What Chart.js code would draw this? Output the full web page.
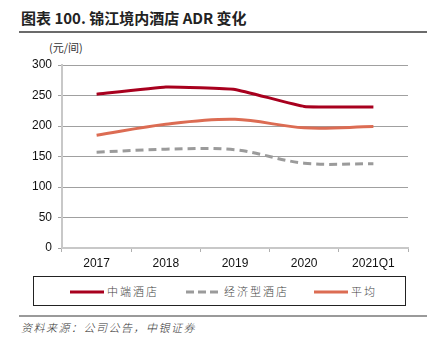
<!DOCTYPE html>
<html>
<head>
<meta charset="utf-8">
<script src="https://cdn.jsdelivr.net/npm/chart.js@4/dist/chart.umd.min.js"></script>
<style>
  html, body { margin:0; padding:0; background:#fff; }
  body { width:438px; height:354px; position:relative; overflow:hidden; font-family:'Liberation Sans', Arial, sans-serif; }
  .title { position:absolute; left:21px; top:7px; font:bold 15px 'Noto Sans CJK SC', sans-serif; color:#222; white-space:nowrap; }
  .rule-top { position:absolute; left:19px; top:31px; width:408px; height:2px; background:#6b6b6b; }
  .unit { position:absolute; left:49px; top:39px; font:11px 'Noto Sans CJK SC', sans-serif; color:#333; }
  #wrap { position:absolute; left:0; top:0; width:438px; height:273px; }
  .legend { position:absolute; left:33px; top:276px; width:371px; height:28px; border:1px solid #222; font:300 11px 'Noto Sans CJK SC', serif; color:#444; }
  .legend span { position:absolute; top:6px; letter-spacing:2px; white-space:nowrap; }
  .legend svg { position:absolute; top:13px; }
  .rule-bot { position:absolute; left:19px; top:315px; width:408px; height:2px; background:#9a9a9a; }
  .source { position:absolute; left:21px; top:319px; font:italic 300 11px 'Noto Sans CJK SC', sans-serif; color:#333; letter-spacing:1.5px; }
</style>
</head>
<body>
<div class="title">图表 100. 锦江境内酒店 ADR 变化</div>
<div class="rule-top"></div>
<div class="unit">(元/间)</div>
<div id="wrap"><canvas id="c"></canvas></div>
<div class="legend" id="legend"></div>
<div class="rule-bot"></div>
<div class="source">资料来源：公司公告，中银证券</div>
<script>
'use strict';

// ── data ──────────────────────────────────────────────
const categories = ['2017', '2018', '2019', '2020', '2021Q1'];
const midScale   = [252, 264, 260, 232, 231];   // 中端酒店
const economy    = [157, 162, 161, 139, 138];   // 经济型酒店
const average    = [185, 203, 211, 197, 199];   // 平均
const yTicks     = [0, 50, 100, 150, 200, 250, 300];

const series = [
  { label:'中端酒店',   data:midScale, color:'#a8001e', dash:[],    tension:0.1 },
  { label:'经济型酒店', data:economy,  color:'#9b9b9b', dash:[8,5], tension:0.35 },
  { label:'平均',       data:average,  color:'#dc6c53', dash:[],    tension:0.35 }
];

const tickFont = { family:"'Liberation Sans', Arial, sans-serif", size:12 };

new Chart(document.getElementById('c'), {
  type: 'line',
  data: {
    labels: categories,
    datasets: series.map(s => ({
      label: s.label, data: s.data,
      borderColor: s.color, backgroundColor: s.color,
      borderWidth: 3, borderDash: s.dash,
      pointRadius: 0, tension: s.tension, fill: false
    }))
  },
  options: {
    responsive: true, maintainAspectRatio: false, animation: false,
    layout: { padding: { left:0, right:30, top:65, bottom:0 } },
    scales: {
      x: {
        offset: true,
        grid: { display:true, drawOnChartArea:false, drawTicks:true, tickLength:4, color:'#b0b0b0', offset:true },
        border: { display:true, color:'#c8c8c8', width:2 },
        ticks: { font:tickFont, color:'#111', padding:4, maxRotation:0 },
        afterFit: s => { s.height = 25; }
      },
      y: {
        min: 0, max: 300,
        afterBuildTicks: s => { s.ticks = yTicks.map(v => ({ value:v })); },
        grid: { color:'#a0a0a0', lineWidth:1, tickLength:4, drawTicks:true },
        border: { display:true, color:'#c8c8c8', width:2 },
        ticks: { font:tickFont, color:'#111', padding:6 },
        afterFit: s => { s.width = 62; }
      }
    },
    plugins: { legend:{ display:false }, tooltip:{ enabled:false } }
  }
});

// html legend
const legendPos = [ [36, 73], [152, 190], [280, 317] ];
const lg = document.getElementById('legend');
series.forEach((s, i) => {
  const [lx, tx] = legendPos[i];
  lg.insertAdjacentHTML('beforeend',
    `<svg width="34" height="4" style="left:${lx}px"><line x1="0" y1="2" x2="34" y2="2" stroke="${s.color}" stroke-width="3" stroke-dasharray="${s.dash.length ? '8,4' : ''}"/></svg>` +
    `<span style="left:${tx}px">${s.label}</span>`);
});
</script>
</body>
</html>
